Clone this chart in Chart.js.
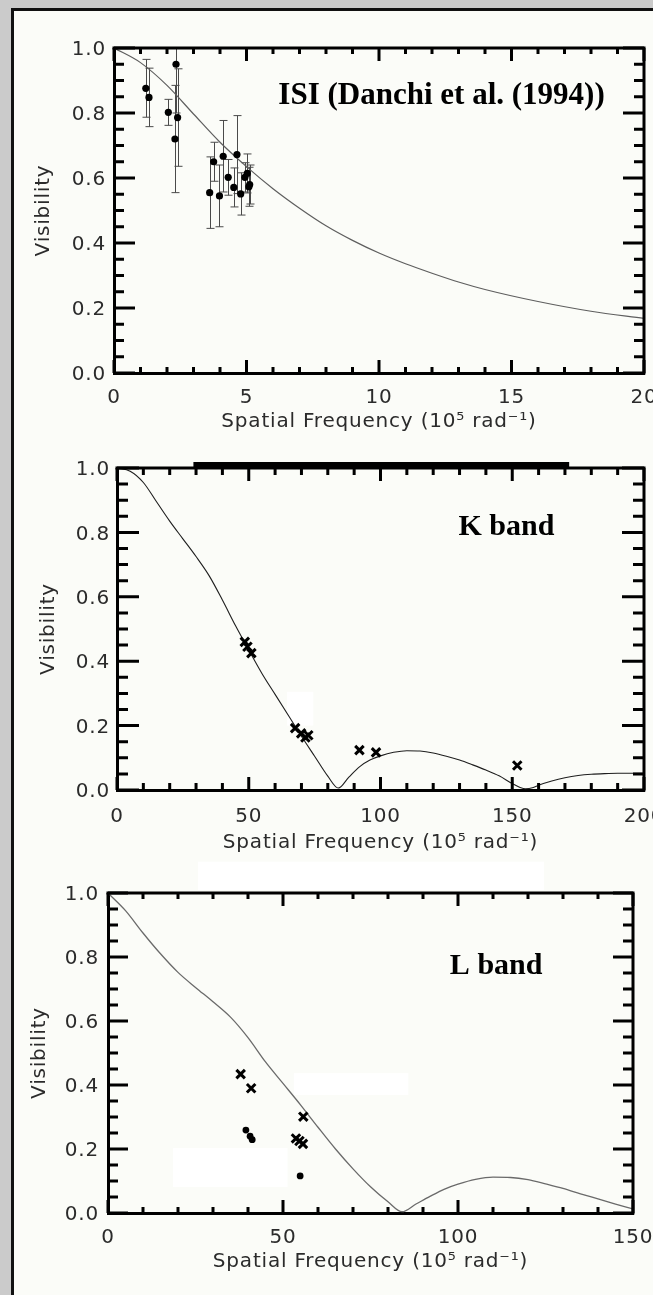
<!DOCTYPE html>
<html>
<head>
<meta charset="utf-8">
<title>Visibility vs spatial frequency</title>
<script src="https://cdn.jsdelivr.net/npm/chart.js@4.4.1/dist/chart.umd.min.js"></script>
<style>
  html, body { margin: 0; padding: 0; }
  body { width: 653px; height: 1295px; position: relative; overflow: hidden; background: #cbcbcb; }
  #sheet { position: absolute; left: 11px; top: 8px; width: 639px; height: 1284px;
           background: #fbfcf8; border-left: 3px solid #111; border-top: 3px solid #111; }
  canvas { position: absolute; left: 0; }
</style>
</head>
<body>
<div id="sheet"></div>
<canvas id="isiChart" width="653" height="440" style="top:0px"></canvas>
<canvas id="kChart" width="653" height="420" style="top:440px"></canvas>
<canvas id="lChart" width="653" height="435" style="top:860px"></canvas>
<script>
// ---- ISI mid-infrared visibilities (Danchi et al. 1994), with 1-sigma errors ----
const isiFreq = [1.20, 1.32, 2.05, 2.30, 2.34, 2.40, 3.61, 3.76, 3.98, 4.12, 4.31, 4.52, 4.64, 4.78, 4.94, 5.03, 5.09, 5.12];
const isiVis  = [0.876, 0.848, 0.802, 0.720, 0.950, 0.786, 0.555, 0.650, 0.545, 0.667, 0.602, 0.571, 0.672, 0.551, 0.602, 0.614, 0.573, 0.580];
const isiErr  = [0.089, 0.090, 0.040, 0.165, 0.150, 0.150, 0.110, 0.060, 0.095, 0.110, 0.055, 0.060, 0.120, 0.065, 0.045, 0.060, 0.060, 0.060];

// model visibility curve for the ISI panel
const isiModelFreq = [0, 1, 2, 3, 4, 5, 6, 7, 8, 9, 10, 11, 12, 13, 14, 16, 18, 20];
const isiModelVis  = [1.0, 0.955, 0.885, 0.797, 0.71, 0.635, 0.567, 0.507, 0.453, 0.408, 0.369, 0.336, 0.307, 0.28, 0.257, 0.22, 0.19, 0.168];

// ---- K band ----
const kFreq = [48.5, 49.5, 51.0, 67.6, 69.9, 71.5, 72.6, 92.0, 98.3, 151.9];
const kVis  = [0.460, 0.445, 0.425, 0.192, 0.176, 0.163, 0.170, 0.124, 0.117, 0.076];
const kModelFreq = [0, 5, 10, 15, 20, 25, 30, 35, 40, 45, 50, 55, 60, 65, 70, 75, 80, 84, 88, 92, 96, 100, 105, 110, 115, 120, 125, 130, 135, 140, 145, 150, 153, 155, 158, 160, 165, 170, 175, 180, 185, 190, 200];
const kModelVis  = [1.0, 0.99, 0.955, 0.895, 0.835, 0.78, 0.725, 0.665, 0.59, 0.51, 0.435, 0.362, 0.297, 0.232, 0.167, 0.105, 0.043, 0.006, 0.04, 0.072, 0.093, 0.106, 0.117, 0.122, 0.121, 0.115, 0.105, 0.093, 0.078, 0.062, 0.044, 0.02, 0.008, 0.004, 0.008, 0.015, 0.028, 0.038, 0.045, 0.049, 0.051, 0.052, 0.052];

// ---- L band ----
const lCrossFreq = [37.9, 40.9, 55.8, 53.7, 54.7, 55.7];
const lCrossVis  = [0.434, 0.390, 0.301, 0.233, 0.225, 0.216];
const lDotFreq = [39.4, 40.6, 41.2, 54.9];
const lDotVis  = [0.259, 0.240, 0.229, 0.116];
const lModelFreq = [0, 5, 10, 15, 20, 25, 30, 35, 40, 45, 50, 55, 60, 65, 70, 75, 80, 84, 88, 92, 96, 100, 105, 110, 115, 120, 125, 130, 135, 140, 145, 150];
const lModelVis  = [1.0, 0.945, 0.875, 0.81, 0.752, 0.705, 0.66, 0.612, 0.548, 0.472, 0.405, 0.338, 0.268, 0.2, 0.138, 0.082, 0.035, 0.004, 0.028, 0.052, 0.074, 0.09, 0.105, 0.112, 0.111, 0.104, 0.091, 0.077, 0.06, 0.044, 0.028, 0.013];

// ---- axis ticks ----
const visTicks = [0, 0.2, 0.4, 0.6, 0.8, 1.0];
const visTickLabels = ['0.0', '0.2', '0.4', '0.6', '0.8', '1.0'];
const isiFreqTicks = [0, 5, 10, 15, 20];
const isiFreqTickLabels = ['0', '5', '10', '15', '20'];
const kFreqTicks = [0, 50, 100, 150, 200];
const kFreqTickLabels = ['0', '50', '100', '150', '200'];
const lFreqTicks = [0, 50, 100, 150];
const lFreqTickLabels = ['0', '50', '100', '150'];

const xTitle = 'Spatial Frequency (10\u2075 rad\u207B\u00B9)';
const yTitle = 'Visibility';

const toPoints = (xs, ys) => xs.map((x, i) => ({ x, y: ys[i] }));

const TEXT = '#2b2b2b';
const tickFont = { family: '"DejaVu Sans", sans-serif', size: 20, weight: 'normal' };
const titleFont = { family: '"DejaVu Sans", sans-serif', size: 20, weight: 'normal' };

// IDL-style frame: inward ticks on all four sides, error bars, labels
function idlFrame(cfg) {
  return {
    id: 'idlFrame',
    beforeDraw(chart) {
      // the axis lettering is set a little wide
      chart.ctx.letterSpacing = '0.8px';
    },
    beforeDatasetsDraw(chart) {
      const { ctx, chartArea: a, scales: { x, y } } = chart;
      ctx.save();
      ctx.fillStyle = '#ffffff';
      (cfg.patches || []).forEach(r => {
        const x0 = x.getPixelForValue(r.x0), x1 = x.getPixelForValue(r.x1);
        const y0 = y.getPixelForValue(r.y1), y1 = y.getPixelForValue(r.y0);
        ctx.fillRect(x0, y0, x1 - x0, y1 - y0);
      });
      if (cfg.errors) {
        ctx.beginPath();
        ctx.rect(a.left, a.top, a.right - a.left, a.bottom - a.top);
        ctx.clip();
        ctx.strokeStyle = '#4a4a4a';
        ctx.lineWidth = 1;
        const { freq, vis, err } = cfg.errors;
        freq.forEach((f, i) => {
          const px = Math.round(x.getPixelForValue(f)) + 0.5;
          const hi = y.getPixelForValue(vis[i] + err[i]);
          const lo = y.getPixelForValue(vis[i] - err[i]);
          ctx.beginPath();
          ctx.moveTo(px, hi); ctx.lineTo(px, lo);
          ctx.moveTo(px - 4, hi); ctx.lineTo(px + 4, hi);
          ctx.moveTo(px - 4, lo); ctx.lineTo(px + 4, lo);
          ctx.stroke();
        });
      }
      ctx.restore();
    },
    afterDatasetsDraw(chart) {
      const { ctx, chartArea: a, scales: { x, y } } = chart;
      ctx.save();
      ctx.strokeStyle = '#000';
      ctx.lineWidth = 3;
      ctx.lineCap = 'butt';
      // top and right axis lines
      ctx.beginPath();
      ctx.moveTo(a.left - 1.5, a.top);
      ctx.lineTo(a.right, a.top);
      ctx.lineTo(a.right, a.bottom + 1.5);
      ctx.stroke();
      // x ticks (bottom and top)
      const nx = Math.round((cfg.xMax - cfg.xMin) / cfg.xMinorStep);
      const xMajorEvery = Math.round(cfg.xMajorStep / cfg.xMinorStep);
      ctx.beginPath();
      for (let i = 0; i <= nx; i++) {
        const v = cfg.xMin + i * cfg.xMinorStep;
        const px = x.getPixelForValue(v);
        const len = i % xMajorEvery === 0 ? cfg.xMajorLen : cfg.xMinorLen;
        ctx.moveTo(px, a.bottom); ctx.lineTo(px, a.bottom - len);
        ctx.moveTo(px, a.top); ctx.lineTo(px, a.top + len);
      }
      // y ticks (left and right), minor every 0.05
      const ny = Math.round(1 / 0.05);
      for (let i = 0; i <= ny; i++) {
        const py = y.getPixelForValue(i * 0.05);
        const len = i % 4 === 0 ? cfg.yMajorLen : cfg.yMinorLen;
        ctx.moveTo(a.left, py); ctx.lineTo(a.left + len, py);
        ctx.moveTo(a.right, py); ctx.lineTo(a.right - len, py);
      }
      ctx.stroke();
      // heavier stretch along the top axis
      if (cfg.topBar) {
        const x0 = x.getPixelForValue(cfg.topBar[0]), x1 = x.getPixelForValue(cfg.topBar[1]);
        ctx.fillStyle = '#000';
        ctx.fillRect(x0, a.top - 6, x1 - x0, 7);
      }
      // panel label
      const lab = cfg.label;
      ctx.letterSpacing = '0px';
      ctx.fillStyle = '#000';
      ctx.font = 'bold ' + lab.size + 'px "Liberation Serif", "Times New Roman", serif';
      ctx.textAlign = 'center';
      ctx.textBaseline = 'alphabetic';
      ctx.fillText(lab.text, x.getPixelForValue(lab.x), y.getPixelForValue(lab.y));
      ctx.restore();
    }
  };
}

function makePanel(canvasId, p) {
  return new Chart(document.getElementById(canvasId), {
    type: 'scatter',
    data: { datasets: p.datasets },
    options: {
      responsive: false,
      animation: false,
      events: [],
      layout: { padding: { left: 0, right: p.padRight, top: p.padTop, bottom: 0 } },
      plugins: { legend: { display: false }, tooltip: { enabled: false } },
      scales: {
        x: {
          type: 'linear', position: 'bottom', min: p.xMin, max: p.xMax,
          afterBuildTicks: s => { s.ticks = p.xTicks.map(v => ({ value: v })); },
          afterFit: s => { s.height = p.xAxisHeight; s.paddingLeft = 0; s.paddingRight = 0; },
          ticks: {
            autoSkip: false, maxRotation: 0, minRotation: 0, padding: p.xLabelPad,
            color: TEXT, font: tickFont,
            callback: v => p.xTickLabels[p.xTicks.indexOf(v)]
          },
          grid: { display: false, drawTicks: false },
          border: { display: true, color: '#000', width: 3 },
          title: { display: true, text: xTitle, color: TEXT, font: titleFont, padding: { top: 0, bottom: p.xTitlePad } }
        },
        y: {
          type: 'linear', position: 'left', min: 0, max: 1,
          afterBuildTicks: s => { s.ticks = visTicks.map(v => ({ value: v })); },
          afterFit: s => { s.width = p.yAxisWidth; s.paddingTop = 0; s.paddingBottom = 0; },
          ticks: {
            autoSkip: false, padding: p.yLabelPad, labelOffset: 2, color: TEXT, font: tickFont,
            callback: v => visTickLabels[visTicks.indexOf(v)]
          },
          grid: { display: false, drawTicks: false },
          border: { display: true, color: '#000', width: 3 },
          title: { display: true, text: yTitle, color: TEXT, font: titleFont, padding: { top: p.yTitlePad, bottom: 0 } }
        }
      }
    },
    plugins: [idlFrame(p)]
  });
}

const modelLine = (xs, ys, color, width) => ({
  data: toPoints(xs, ys), showLine: true, pointRadius: 0,
  borderColor: color, borderWidth: width, cubicInterpolationMode: 'monotone', fill: false
});

// ISI panel
makePanel('isiChart', {
  xMin: 0, xMax: 20, xTicks: isiFreqTicks, xTickLabels: isiFreqTickLabels,
  xMinorStep: 1, xMajorStep: 5,
  xMajorLen: 13, xMinorLen: 6, yMajorLen: 21, yMinorLen: 10,
  padRight: 9, padTop: 48, xAxisHeight: 67, yAxisWidth: 114,
  xLabelPad: 13, yLabelPad: 8, xTitlePad: 6, yTitlePad: 32,
  errors: { freq: isiFreq, vis: isiVis, err: isiErr },
  label: { text: 'ISI (Danchi et al. (1994))', x: 12.36, y: 0.828, size: 31 },
  datasets: [
    { data: toPoints(isiFreq, isiVis), pointStyle: 'circle', pointRadius: 3.6,
      pointBackgroundColor: '#000', pointBorderWidth: 0 },
    modelLine(isiModelFreq, isiModelVis, '#5e5e5e', 1.2)
  ]
});

// K band panel
makePanel('kChart', {
  xMin: 0, xMax: 200, xTicks: kFreqTicks, xTickLabels: kFreqTickLabels,
  xMinorStep: 10, xMajorStep: 50,
  xMajorLen: 13, xMinorLen: 7, yMajorLen: 22, yMinorLen: 11,
  padRight: 7, padTop: 28, xAxisHeight: 70, yAxisWidth: 117,
  xLabelPad: 15, yLabelPad: 7, xTitlePad: 5, yTitlePad: 37,
  topBar: [29, 171.6],
  patches: [{ x0: 64.5, x1: 74.5, y0: 0.20, y1: 0.305 }],
  label: { text: 'K band', x: 147.8, y: 0.792, size: 30 },
  datasets: [
    { data: toPoints(kFreq, kVis), pointStyle: 'crossRot', pointRadius: 6,
      pointBorderColor: '#000', pointBorderWidth: 3 },
    modelLine(kModelFreq, kModelVis, '#1e1e1e', 1.1)
  ]
});

// L band panel
makePanel('lChart', {
  xMin: 0, xMax: 150, xTicks: lFreqTicks, xTickLabels: lFreqTickLabels,
  xMinorStep: 10, xMajorStep: 50,
  xMajorLen: 13, xMinorLen: 6, yMajorLen: 20, yMinorLen: 10,
  padRight: 20, padTop: 33, xAxisHeight: 82, yAxisWidth: 108,
  xLabelPad: 13, yLabelPad: 9, xTitlePad: 21, yTitlePad: 28,
  patches: [
    { x0: 53.1, x1: 85.8, y0: 0.369, y1: 0.437 },
    { x0: 18.6, x1: 51.3, y0: 0.081, y1: 0.203 },
    { x0: 25.7, x1: 124.6, y0: 1.009, y1: 1.098 }
  ],
  label: { text: 'L band', x: 110.9, y: 0.747, size: 30 },
  datasets: [
    { data: toPoints(lCrossFreq, lCrossVis), pointStyle: 'crossRot', pointRadius: 6,
      pointBorderColor: '#000', pointBorderWidth: 3 },
    { data: toPoints(lDotFreq, lDotVis), pointStyle: 'circle', pointRadius: 3.4,
      pointBackgroundColor: '#000', pointBorderWidth: 0 },
    modelLine(lModelFreq, lModelVis, '#6a6a6a', 1.3)
  ]
});
</script>
</body>
</html>
